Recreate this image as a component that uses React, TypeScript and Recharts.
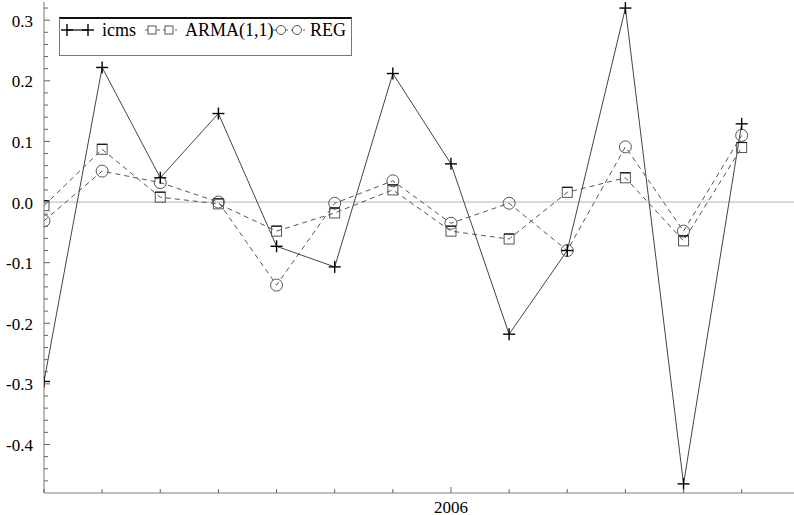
import React from "react";
import { LineChart, Line, XAxis, YAxis, ReferenceLine, Legend } from "recharts";

// Monthly periods, June 2005 through June 2006
const periods = [
  "2005-06", "2005-07", "2005-08", "2005-09", "2005-10", "2005-11", "2005-12",
  "2006-01", "2006-02", "2006-03", "2006-04", "2006-05", "2006-06",
];

const icms = [-0.296, 0.222, 0.04, 0.146, -0.073, -0.107, 0.212, 0.063, -0.218, -0.08, 0.32, -0.465, 0.129];
const arma = [-0.006, 0.087, 0.008, -0.003, -0.048, -0.018, 0.02, -0.048, -0.061, 0.016, 0.04, -0.064, 0.09];
const reg = [-0.031, 0.051, 0.032, 0.0, -0.137, -0.002, 0.035, -0.035, -0.002, -0.08, 0.091, -0.048, 0.11];

const data = periods.map((p, i) => ({ idx: i, period: p, icms: icms[i], arma: arma[i], reg: reg[i] }));

// Minor ticks every 0.02, labelled every 0.1
const yTicks: number[] = [];
for (let k = -23; k <= 16; k++) yTicks.push(Number((k * 0.02).toFixed(2)));

const xTicks = periods.map((_, i) => i);

const FONT = "Liberation Serif, Tinos, Times New Roman, DejaVu Serif, serif";

const YTick = (props: any) => {
  const { x, y, payload } = props;
  const v = payload.value as number;
  const k = Math.round(v / 0.02);
  const major = k % 5 === 0;
  const label = Math.abs(v) < 1e-9 ? "0.0" : v.toFixed(1);
  return (
    <g>
      <line x1={x} x2={x + (major ? 6 : 4)} y1={y} y2={y} stroke="#666" strokeWidth={1} />
      {major && (
        <text x={x - 11} y={y + 1} textAnchor="end" dominantBaseline="central" style={{ fontFamily: FONT }} fontSize={17} fill="#000">
          {label}
        </text>
      )}
    </g>
  );
};

const XTick = (props: any) => {
  const { x, y, payload } = props;
  const i = payload.value as number;
  const p = periods[i];
  const major = p.endsWith("-01");
  return (
    <g>
      <line x1={x} x2={x} y1={y} y2={y - (major ? 6 : 4)} stroke="#666" strokeWidth={1} />
      {major && (
        <text x={x} y={y + 14} textAnchor="middle" dominantBaseline="central" style={{ fontFamily: FONT }} fontSize={17} fill="#000">
          {p.slice(0, 4)}
        </text>
      )}
    </g>
  );
};

const Plus = (props: any) => {
  const { cx, cy, index } = props;
  if (cx == null || cy == null) return <g key={`p${index}`} />;
  return (
    <g key={`p${index}`}>
      <line x1={cx - 6} x2={cx + 6} y1={cy} y2={cy} stroke="#000" strokeWidth={1.4} />
      <line x1={cx} x2={cx} y1={cy - 6} y2={cy + 6} stroke="#000" strokeWidth={1.4} />
    </g>
  );
};

const Square = (props: any) => {
  const { cx, cy, index } = props;
  if (cx == null || cy == null) return <g key={`s${index}`} />;
  return (
    <g key={`s${index}`}>
      <rect x={cx - 5} y={cy - 5} width={10} height={10} fill="none" stroke="#555" strokeWidth={1} />
      <line x1={cx - 5} x2={cx + 5} y1={cy - 5} y2={cy - 5} stroke="#111" strokeWidth={1.2} />
    </g>
  );
};

const Circle = (props: any) => {
  const { cx, cy, index } = props;
  if (cx == null || cy == null) return <g key={`c${index}`} />;
  return <circle key={`c${index}`} cx={cx} cy={cy} r={6} fill="none" stroke="#555" strokeWidth={1} />;
};

const LegendBox = () => (
  <div
    style={{
      position: "relative",
      width: 293,
      height: 39,
      boxSizing: "border-box",
      borderTop: "2px solid #111",
      borderLeft: "1px solid #777",
      borderRight: "1px solid #777",
      borderBottom: "1px solid #777",
      background: "#fff",
      fontFamily: FONT,
      fontSize: 18,
      color: "#000",
    }}
  >
    <svg width={293} height={39} style={{ position: "absolute", left: -1, top: -2 }}>
      <line x1={8} x2={29} y1={13} y2={13} stroke="#000" strokeWidth={1.2} />
      <line x1={2} x2={14} y1={13} y2={13} stroke="#000" strokeWidth={1.4} />
      <line x1={8} x2={8} y1={7} y2={19} stroke="#000" strokeWidth={1.4} />
      <line x1={23} x2={35} y1={13} y2={13} stroke="#000" strokeWidth={1.4} />
      <line x1={29} x2={29} y1={7} y2={19} stroke="#000" strokeWidth={1.4} />

      <line x1={86} x2={118} y1={13} y2={13} stroke="#555" strokeWidth={1} strokeDasharray="3 3" />
      <rect x={89} y={9} width={8} height={8} fill="#fff" stroke="#555" />
      <rect x={106} y={9} width={8} height={8} fill="#fff" stroke="#555" />

      <line x1={214} x2={246} y1={13} y2={13} stroke="#555" strokeWidth={1} strokeDasharray="3 3" />
      <circle cx={222} cy={13} r={4.5} fill="#fff" stroke="#555" />
      <circle cx={238} cy={13} r={4.5} fill="#fff" stroke="#555" />
    </svg>
    <span style={{ position: "absolute", left: 42, top: 0, lineHeight: "22px" }}>icms</span>
    <span style={{ position: "absolute", left: 125, top: 0, lineHeight: "22px" }}>ARMA(1,1)</span>
    <span style={{ position: "absolute", left: 250, top: 0, lineHeight: "22px" }}>REG</span>
  </div>
);

export default function App() {
  return (
    <div style={{ position: "absolute", left: 0, top: 0, width: 794, height: 515, background: "#fff" }}>
      <LineChart width={794} height={515} data={data} margin={{ top: 2, right: 0, bottom: 0, left: 0 }}>
        <XAxis
          dataKey="idx"
          type="number"
          domain={[0, 12.9]}
          ticks={xTicks}
          allowDataOverflow
          height={22}
          axisLine={{ stroke: "#aaa", strokeWidth: 1.5 }}
          tickLine={false}
          tickSize={0}
          tickMargin={0}
          tick={<XTick />}
          interval={0}
        />
        <YAxis
          type="number"
          domain={[-0.48, 0.33]}
          ticks={yTicks}
          allowDataOverflow
          width={44}
          axisLine={{ stroke: "#777", strokeWidth: 1 }}
          tickLine={false}
          tickSize={0}
          tickMargin={0}
          tick={<YTick />}
          interval={0}
        />
        <ReferenceLine y={0} stroke="#b5b5b5" strokeWidth={1} />
        <Legend
          layout="vertical"
          align="center"
          verticalAlign="middle"
          wrapperStyle={{ left: 59, top: 17, width: 293, height: 39 }}
          content={() => <LegendBox />}
        />
        <Line
          dataKey="reg"
          name="REG"
          type="linear"
          stroke="#555"
          strokeWidth={1}
          strokeDasharray="5 4"
          dot={Circle}
          activeDot={false}
          isAnimationActive={false}
        />
        <Line
          dataKey="arma"
          name="ARMA(1,1)"
          type="linear"
          stroke="#555"
          strokeWidth={1}
          strokeDasharray="5 4"
          dot={Square}
          activeDot={false}
          isAnimationActive={false}
        />
        <Line
          dataKey="icms"
          name="icms"
          type="linear"
          stroke="#444"
          strokeWidth={1}
          dot={Plus}
          activeDot={false}
          isAnimationActive={false}
        />
      </LineChart>
    </div>
  );
}
